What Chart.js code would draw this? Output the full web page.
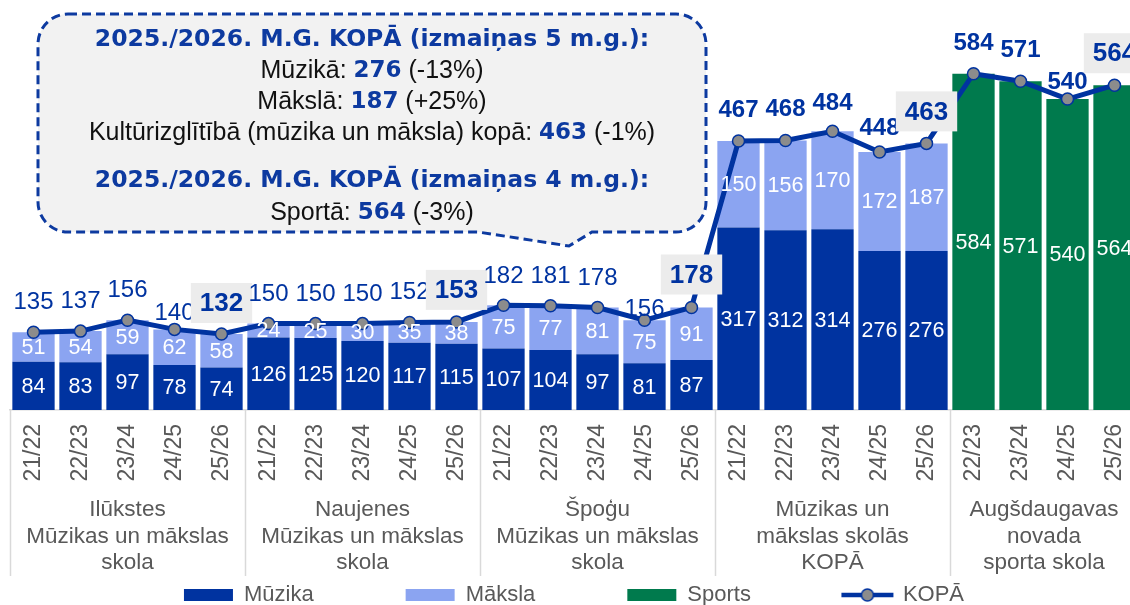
<!DOCTYPE html>
<html><head><meta charset="utf-8">
<script src="https://cdn.jsdelivr.net/npm/chart.js@4/dist/chart.umd.min.js"></script>
<style>
html,body{margin:0;padding:0;background:#fff;overflow:hidden;width:1130px;height:605px;}
#wrap{position:absolute;left:0;top:0;width:1140px;height:616px;}
</style></head><body>
<div id="wrap"><canvas id="c"></canvas></div>
<script>
// ---- data ----
const periods = ['21/22','22/23','23/24','24/25','25/26',
                 '21/22','22/23','23/24','24/25','25/26',
                 '21/22','22/23','23/24','24/25','25/26',
                 '21/22','22/23','23/24','24/25','25/26',
                 '22/23','23/24','24/25','25/26'];
const groupNames = [
  ['Ilūkstes','Mūzikas un mākslas','skola'],
  ['Naujenes','Mūzikas un mākslas','skola'],
  ['Špoģu','Mūzikas un mākslas','skola'],
  ['Mūzikas un','mākslas skolās','KOPĀ'],
  ['Augšdaugavas','novada','sporta skola']
];
const groupSizes = [5,5,5,5,4];
const muzika = [84,83,97,78,74, 126,125,120,117,115, 107,104,97,81,87, 317,312,314,276,276, null,null,null,null];
const maksla = [51,54,59,62,58, 24,25,30,35,38, 75,77,81,75,91, 150,156,170,172,187, null,null,null,null];
const sports = [null,null,null,null,null, null,null,null,null,null, null,null,null,null,null, null,null,null,null,null, 584,571,540,564];
const kopa   = [135,137,156,140,132, 150,150,150,152,153, 182,181,178,156,178, 467,468,484,448,463, 584,571,540,564];
const seriesNames = ['Mūzika','Māksla','Sports','KOPĀ'];
const calloutLines = [
  [['2025./2026. M.G. KOPĀ (izmaiņas 5 m.g.):','h']],
  [['Mūzikā: ','n'],['276','b'],[' (-13%)','n']],
  [['Mākslā: ','n'],['187','b'],[' (+25%)','n']],
  [['Kultūrizglītībā (mūzika un māksla) kopā: ','n'],['463','b'],[' (-1%)','n']],
  [['2025./2026. M.G. KOPĀ (izmaiņas 4 m.g.):','h']],
  [['Sportā: ','n'],['564','b'],[' (-3%)','n']]
];

// ---- styles ----
const C_MUZ = '#0033a0', C_MAK = '#8ba4f1', C_SPO = '#007a4d', C_LINE = '#0033a0';
const GREY_TXT = '#595959', SEP = '#d9d9d9';
const FAM = '"Liberation Sans", Arial, sans-serif';
const WIDE = '"DejaVu Sans", Verdana, sans-serif';
const BASE_Y = 410;
const LIFT = [31,31,31,17,31, 30,30,30,31,32, 30,30,30,12,33, 32,32,29,25,32, 31,32,18,32];
Chart.defaults.font.family = FAM;

// legend icon for line series
const lineIcon = document.createElement('canvas');
lineIcon.width = 54; lineIcon.height = 16;
(function(){
  const g = lineIcon.getContext('2d');
  g.strokeStyle = C_LINE; g.lineWidth = 4.5;
  g.beginPath(); g.moveTo(1,8); g.lineTo(53,8); g.stroke();
  g.beginPath(); g.arc(27,8,6,0,Math.PI*2);
  g.fillStyle = '#8c8c8c'; g.fill(); g.lineWidth = 1.5; g.stroke();
})();

function drawRich(ctx, segs, cx, y){
  const fonts = {h:'bold 23.5px '+WIDE, b:'bold 23px '+WIDE, n:'25px '+FAM};
  const cols = {h:'#0d3aa0', b:'#0d3aa0', n:'#111'};
  let total = 0;
  const ws = segs.map(s => { ctx.font = fonts[s[1]]; const w = ctx.measureText(s[0]).width; total += w; return w; });
  let x = cx - total/2;
  ctx.textAlign = 'left'; ctx.textBaseline = 'middle';
  segs.forEach((s,i) => { ctx.font = fonts[s[1]]; ctx.fillStyle = cols[s[1]]; ctx.fillText(s[0], x, y); x += ws[i]; });
}

const annot = {
  id: 'annot',
  afterDatasetsDraw(chart){
    const ctx = chart.ctx;
    ctx.save();
    ctx.textAlign = 'center'; ctx.textBaseline = 'middle';
    ctx.font = '21.5px ' + FAM; ctx.fillStyle = '#fff';
    [0,1,2].forEach(di => {
      const meta = chart.getDatasetMeta(di);
      const vals = chart.data.datasets[di].data;
      meta.data.forEach((el,i) => {
        if (vals[i] == null) return;
        const p = el.getProps(['x','y','base'], true);
        ctx.fillText(String(vals[i]), p.x, (p.y + p.base)/2 + 1);
      });
    });
    // total labels
    const lm = chart.getDatasetMeta(3);
    const vals = chart.data.datasets[3].data;
    let ends = []; let acc = 0;
    groupSizes.forEach(n => { acc += n; ends.push(acc-1); });
    lm.data.forEach((pt,i) => {
      const txt = String(vals[i]);
      const x = pt.x, y = pt.y - LIFT[i];
      const boxed = ends.includes(i);
      if (boxed) ctx.font = 'bold 26px ' + FAM;
      else if (i >= 15) ctx.font = 'bold 24px ' + FAM;
      else ctx.font = '24px ' + FAM;
      if (boxed){
        const w = ctx.measureText(txt).width + 18;
        ctx.fillStyle = '#ececec';
        ctx.fillRect(x - w/2, y - 20, w, 40);
      }
      ctx.fillStyle = C_LINE;
      ctx.fillText(txt, x, y + 1);
    });
    ctx.restore();
  },
  afterDraw(chart){
    const ctx = chart.ctx, xs = chart.scales.x;
    ctx.save();
    // separators & group labels
    ctx.strokeStyle = SEP; ctx.lineWidth = 1.5;
    let start = 0;
    const bounds = [xs.left];
    groupSizes.forEach(n => {
      const endIdx = start + n - 1;
      const x0 = start === 0 ? xs.left : (xs.getPixelForValue(start-1) + xs.getPixelForValue(start))/2;
      const x1 = endIdx === periods.length-1 ? xs.right : (xs.getPixelForValue(endIdx) + xs.getPixelForValue(endIdx+1))/2;
      bounds.push(x1);
      const gi = bounds.length - 2;
      ctx.fillStyle = GREY_TXT; ctx.font = '22.5px ' + FAM;
      ctx.textAlign = 'center'; ctx.textBaseline = 'middle';
      groupNames[gi].forEach((t,k) => ctx.fillText(t, (x0+x1)/2, 510 + k*26.5));
      start += n;
    });
    bounds.forEach(b => { ctx.beginPath(); ctx.moveTo(Math.round(b)+0.5, BASE_Y); ctx.lineTo(Math.round(b)+0.5, 576); ctx.stroke(); });

    // callout bubble
    const x0=38, y0=14, x1=706, y1=232, r=30;
    ctx.beginPath();
    ctx.moveTo(x0+r, y0);
    ctx.lineTo(x1-r, y0); ctx.arcTo(x1, y0, x1, y0+r, r);
    ctx.lineTo(x1, y1-r); ctx.arcTo(x1, y1, x1-r, y1, r);
    ctx.lineTo(592, y1); ctx.lineTo(569, 246); ctx.lineTo(478, y1);
    ctx.lineTo(x0+r, y1); ctx.arcTo(x0, y1, x0, y1-r, r);
    ctx.lineTo(x0, y0+r); ctx.arcTo(x0, y0, x0+r, y0, r);
    ctx.closePath();
    ctx.fillStyle = '#f2f2f2'; ctx.fill();
    ctx.setLineDash([9,5]); ctx.lineWidth = 3; ctx.strokeStyle = '#0d3aa0'; ctx.stroke();
    ctx.setLineDash([]);
    const ys = [40, 71, 102, 133, 181, 213];
    calloutLines.forEach((segs,i) => drawRich(ctx, segs, 372, ys[i]));
    ctx.restore();
  }
};

new Chart(document.getElementById('c'), {
  type: 'bar',
  data: {
    labels: periods,
    datasets: [
      {label: seriesNames[0], data: muzika, backgroundColor: C_MUZ, stack: 's', order: 1, barPercentage: 0.9, categoryPercentage: 1},
      {label: seriesNames[1], data: maksla, backgroundColor: C_MAK, stack: 's', order: 1, barPercentage: 0.9, categoryPercentage: 1},
      {label: seriesNames[2], data: sports, backgroundColor: C_SPO, stack: 's', order: 1, barPercentage: 0.9, categoryPercentage: 1},
      {label: seriesNames[3], data: kopa, type: 'line', stack: 'line', order: 0,
       borderColor: C_LINE, borderWidth: 5, tension: 0, fill: false,
       pointRadius: 6, pointBackgroundColor: '#8c8c8c', pointBorderColor: C_LINE, pointBorderWidth: 1.5}
    ]
  },
  options: {
    responsive: true, maintainAspectRatio: false, animation: false,
    layout: {autoPadding: false, padding: {left: 10, right: 2, top: 0, bottom: 0}},
    scales: {
      x: {
        stacked: true,
        grid: {display: false, drawTicks: false},
        border: {display: true, color: SEP, width: 1.5},
        ticks: {color: GREY_TXT, font: {size: 23}, minRotation: 90, maxRotation: 90, autoSkip: false, padding: 14},
        afterFit(s){
          const lg = s.chart.legend;
          s.height = s.chart.height - (lg ? lg.height : 0) - BASE_Y;
          s.paddingLeft = 0; s.paddingRight = 0;
        }
      },
      y: {stacked: true, display: false, min: 0, max: 712}
    },
    plugins: {
      tooltip: {enabled: false},
      legend: {
        position: 'bottom',
        labels: {
          usePointStyle: true, pointStyleWidth: 49, boxHeight: 12, padding: 92,
          color: GREY_TXT, font: {size: 22},
          sort: (a,b) => a.datasetIndex - b.datasetIndex,
          generateLabels(chart){
            const items = Chart.defaults.plugins.legend.labels.generateLabels(chart);
            items.forEach(it => { it.pointStyle = (it.datasetIndex === 3) ? lineIcon : 'rect'; it.lineWidth = 0; });
            return items;
          }
        }
      }
    }
  },
  plugins: [annot]
});
</script>
</body></html>
